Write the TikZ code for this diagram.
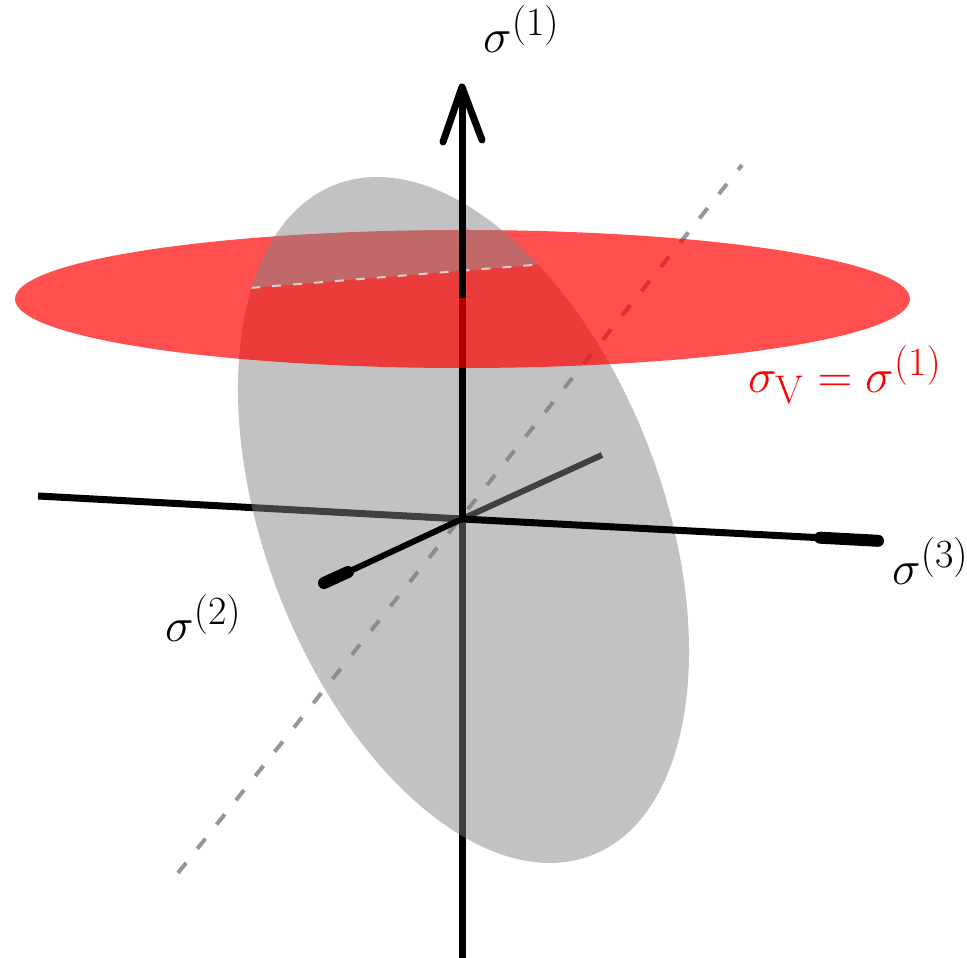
\documentclass[tikz,border=0pt]{standalone}
\usetikzlibrary{arrows.meta}
\definecolor{planegray}{RGB}{131,131,131}
\definecolor{dashgray}{RGB}{150,150,150}
\definecolor{planered}{RGB}{255,0,0}
\tikzset{
  axisline/.style={line width=7pt, black},
  axisthin/.style={line width=6pt, black},
  axishead/.style={line width=12pt, black, line cap=round},
  grayplane/.style={fill=planegray, fill opacity=0.49},
  redplane/.style={fill=planered, fill opacity=0.69},
  dashline/.style={line width=4pt, dashgray, dash pattern=on 13pt off 18pt},
  cutline/.style={line width=2pt, gray!35, dash pattern=on 9pt off 12pt},
  lbl/.style={font=\Huge, scale=1.93, transform shape, inner sep=0pt, anchor=base west}
}
\begin{document}
\begin{tikzpicture}[x=1pt,y=1pt]
\useasboundingbox (0,0) rectangle (967,958);
% key points (y measured upward)
\coordinate (O) at (462,439);
\coordinate (Vbot) at (462,0);
\coordinate (Vred) at (462,660);
\coordinate (Vtip) at (462,871);
\coordinate (BarbL) at (443,816);
\coordinate (BarbR) at (482,818);
\coordinate (Hleft) at (38,462);
\coordinate (Hright) at (882,417);
\coordinate (Hhead) at (820,420.3);
\coordinate (HrightIn) at (878,417.2);
\coordinate (Sback) at (602,503);
\coordinate (Sfront) at (320,373);
\coordinate (Shead) at (348,386);
\coordinate (SfrontIn) at (324,375);
\coordinate (D1) at (178,85);
\coordinate (D2) at (742,793);
\coordinate (C1) at (0,649.7);
\coordinate (C2) at (967,728.3);
\coordinate (GC) at (463.5,438);
\coordinate (RC) at (462.5,659);
% dashed diagonal
\draw[dashline] (D1) -- (D2);
% back parts of axes
\draw[axisline] (Vbot) -- (O);
\draw[axisline] (Hleft) -- (O);
\draw[axisthin] (O) -- (Sback);
% gray plane, part below the cut line
\begin{scope}
  \clip (C1) -- (C2) -- (967,0) -- (0,0) -- cycle;
  \fill[grayplane, shift={(GC)}, rotate=-69.2] (0,0) ellipse[x radius=359, y radius=199];
\end{scope}
% front parts of axes
\draw[axisline] (O) -- (Vred);
\draw[axisline] (O) -- (Hright);
\draw[axishead] (Hhead) -- (HrightIn);
\draw[axisthin] (O) -- (Sfront);
\draw[axishead] (Shead) -- (SfrontIn);
% red plane
\fill[redplane] (RC) ellipse[x radius=447.5, y radius=69];
% gray plane, part above the cut line
\begin{scope}
  \clip (C1) -- (C2) -- (967,958) -- (0,958) -- cycle;
  \fill[grayplane, shift={(GC)}, rotate=-69.2] (0,0) ellipse[x radius=359, y radius=199];
\end{scope}
% intersection line
\begin{scope}
  \clip[shift={(GC)}, rotate=-69.2] (0,0) ellipse[x radius=359, y radius=199];
  \draw[cutline] (C1) -- (C2);
\end{scope}
% top of vertical axis with arrow
\draw[axisline] (Vred) -- (Vtip);
\draw[axisline, line join=round, line cap=round] (BarbL) -- (Vtip) -- (BarbR);
% labels
\node[lbl] (l1) at (483,905) {$\sigma^{(1)}$};
\node[lbl, text=red] (lv) at (748,565) {$\sigma_{\mathrm{V}} = \sigma^{(1)}$};
\node[lbl] (l3) at (892,373) {$\sigma^{(3)}$};
\node[lbl] (l2) at (165,316) {$\sigma^{(2)}$};
\end{tikzpicture}
\end{document}
